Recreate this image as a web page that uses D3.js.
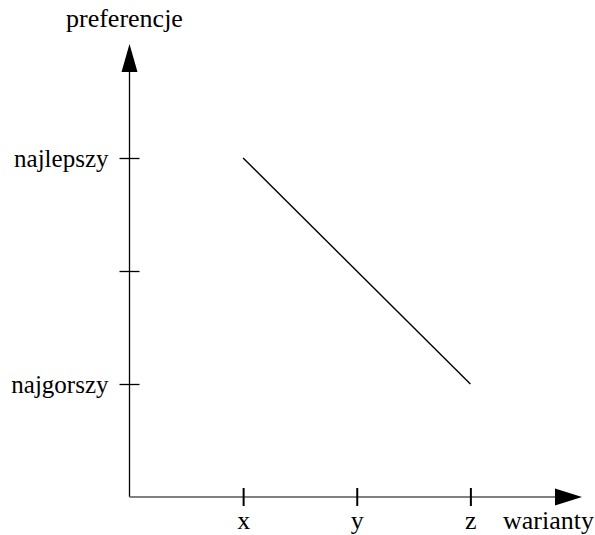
<!DOCTYPE html>
<html>
<head>
<meta charset="utf-8">
<script src="https://cdn.jsdelivr.net/npm/d3@7"></script>
<style>
  html, body { margin: 0; padding: 0; background: #fff; overflow: hidden; }
  svg { display: block; }
</style>
</head>
<body>
<svg id="chart"></svg>
<script>
// Data
const variants = ["x", "y", "z"];
const preference = [3, 2, 1];
const levelValues = [1, 2, 3];
const levelLabels = ["najgorszy", "", "najlepszy"];
const xTitle = "warianty";
const yTitle = "preferencje";

const width = 595;
const height = 535;
const serif = "'Liberation Serif', 'Times New Roman', Times, serif";

const svg = d3.select("#chart")
    .attr("width", width)
    .attr("height", height);

// Scales
const x = d3.scaleLinear().domain([0, 4]).range([129.5, 584]);
const y = d3.scaleLinear().domain([0, 4]).range([497, 45]);

// Y axis line + arrow
svg.append("line")
    .attr("x1", x(0)).attr("x2", x(0))
    .attr("y1", y(0)).attr("y2", 70)
    .attr("stroke", "#000").attr("stroke-width", 1.3);
svg.append("path")
    .attr("d", `M${x(0)},44 L${x(0) - 8},72 L${x(0) + 8},72 Z`)
    .attr("fill", "#000");

// X axis line + arrow
svg.append("line")
    .attr("x1", x(0)).attr("x2", 557)
    .attr("y1", y(0)).attr("y2", y(0))
    .attr("stroke", "#808080").attr("stroke-width", 2);
svg.append("path")
    .attr("d", `M582,${y(0)} L555,${y(0) - 8.5} L555,${y(0) + 8.5} Z`)
    .attr("fill", "#000");

// Y ticks and labels
const yAxis = d3.axisLeft(y)
    .tickValues(levelValues)
    .tickFormat((d, i) => levelLabels[i])
    .tickSize(0)
    .tickPadding(21);
const gy = svg.append("g")
    .attr("transform", `translate(${x(0)},0)`)
    .call(yAxis);
gy.select(".domain").remove();
gy.selectAll(".tick text")
    .attr("dy", "0.33em");
gy.selectAll(".tick").append("line")
    .attr("x1", -10).attr("x2", 10)
    .attr("stroke", "#000").attr("stroke-width", 1.3);

// X ticks and labels
const xAxis = d3.axisBottom(x)
    .tickValues([1, 2, 3])
    .tickFormat((d, i) => variants[i])
    .tickSize(0)
    .tickPadding(32);
const gx = svg.append("g")
    .attr("transform", `translate(0,${y(0)})`)
    .call(xAxis);
gx.select(".domain").remove();
gx.selectAll(".tick text")
    .attr("dy", 0);
gx.selectAll(".tick").append("line")
    .attr("y1", -9).attr("y2", 9)
    .attr("stroke", "#000").attr("stroke-width", 2);

// Axis titles
const titles = svg.append("g");
titles.append("text")
    .attr("x", 66).attr("y", 27)
    .text(yTitle);
titles.append("text")
    .attr("x", 503).attr("y", 529)
    .text(xTitle);

// Fonts on every text
svg.selectAll("g").attr("font-family", null).attr("font-size", null);
svg.selectAll("text")
    .style("font-family", serif)
    .style("font-size", "26px")
    .style("fill", "#000");
gy.selectAll("text").style("font-size", "25px");

// Preference line
const line = d3.line()
    .x((d, i) => x(i + 1))
    .y(d => y(d));
svg.append("path")
    .datum(preference)
    .attr("d", line)
    .attr("fill", "none")
    .attr("stroke", "#000")
    .attr("stroke-width", 1.4);
</script>
</body>
</html>
